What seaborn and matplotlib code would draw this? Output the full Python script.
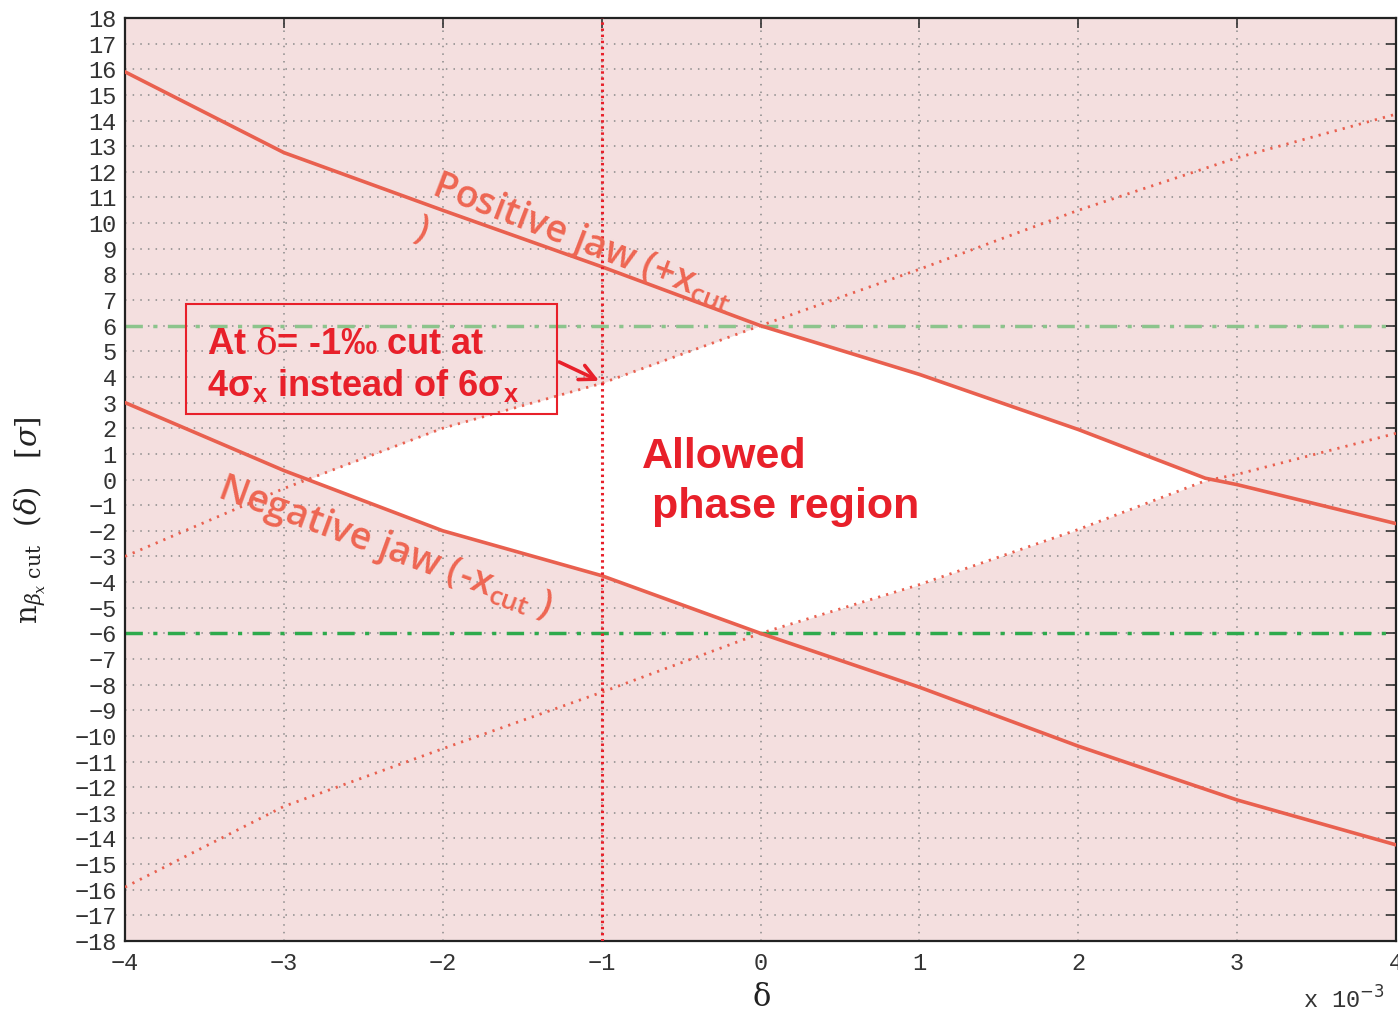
import numpy as np
import pandas as pd
import matplotlib
matplotlib.use("Agg")
import matplotlib.pyplot as plt
import seaborn as sns
from matplotlib.patches import Rectangle

# ---------------- data ----------------
delta_pos = [-4, -3, -2, -1, 0, 1, 2, 2.8, 3, 4]          # x 1e-3
positive_jaw = [15.9, 12.75, 10.5, 8.3, 6.0, 4.1, 1.95, 0.05, -0.2, -1.72]
mirror_positive = [-15.9, -12.75, -10.5, -8.3, -6.0, -4.1, -1.95, -0.05, 0.2, 1.8]

delta_neg = [-4, -3, -2, -1, 0, 1, 2, 3, 4]
negative_jaw = [3.0, 0.35, -2.0, -3.75, -6.0, -8.1, -10.4, -12.5, -14.25]
mirror_negative = [-3.0, -0.35, 2.0, 3.75, 6.0, 8.2, 10.5, 12.55, 14.25]

nominal_cut = 6
cut_delta = -1
x_ticks = [-4, -3, -2, -1, 0, 1, 2, 3, 4]
y_ticks = list(range(-18, 19))

# ---------------- style ----------------
sns.set_style("white")
plt.rcParams["font.family"] = ["Liberation Mono", "DejaVu Sans Mono"]
plt.rcParams["mathtext.fontset"] = "custom"
plt.rcParams["mathtext.rm"] = "Open Sans:semibold"
plt.rcParams["mathtext.it"] = "Liberation Sans:bold"
plt.rcParams["mathtext.bf"] = "Liberation Sans:bold"

LINE = "#e9604f"
LABEL = "#ee6652"
RED = "#e8202a"
PINK = "#f4dfdf"

W, H = 1398, 1015
fig = plt.figure(figsize=(W / 100, H / 100), dpi=100)
ax = fig.add_axes([125 / W, 1 - 941 / H, (1396 - 125) / W, (941 - 18) / H])
ax.set_facecolor(PINK)

# allowed region (white)
xs = np.linspace(-4, 4, 4001)
top = np.minimum(np.interp(xs, delta_pos, positive_jaw), np.interp(xs, delta_neg, mirror_negative))
bot = np.maximum(np.interp(xs, delta_neg, negative_jaw), np.interp(xs, delta_pos, mirror_positive))
ax.fill_between(xs, bot, top, where=top > bot, color="white", interpolate=True, zorder=1, linewidth=0)

df_pos = pd.DataFrame({"delta": delta_pos, "pos": positive_jaw, "mpos": mirror_positive})
df_neg = pd.DataFrame({"delta": delta_neg, "neg": negative_jaw, "mneg": mirror_negative})

sns.lineplot(data=df_pos, x="delta", y="pos", ax=ax, color=LINE, linewidth=2.6, sort=False, zorder=3)
sns.lineplot(data=df_neg, x="delta", y="neg", ax=ax, color=LINE, linewidth=2.6, sort=False, zorder=3)
sns.lineplot(data=df_pos, x="delta", y="mpos", ax=ax, color=LINE, linewidth=2.0, sort=False,
             linestyle=(0, (0.8, 2.2)), zorder=3)
sns.lineplot(data=df_neg, x="delta", y="mneg", ax=ax, color=LINE, linewidth=2.0, sort=False,
             linestyle=(0, (0.8, 2.2)), zorder=3)

ax.axhline(nominal_cut, color="#8cc48c", linewidth=2.5, linestyle=(0, (5, 3, 1.2, 3)), zorder=2.5)
ax.axhline(-nominal_cut, color="#2eaa4c", linewidth=2.5, linestyle=(0, (5, 3, 1.2, 3)), zorder=2.5)
ax.axvline(cut_delta, color=RED, linewidth=2.2, linestyle=(0, (0.8, 1.2)), zorder=3.5)

# axes
ax.set_xlim(-4, 4)
ax.set_ylim(-18, 18)
ax.set_xticks(x_ticks)
ax.set_yticks(y_ticks)
ax.set_xticklabels([f"{v}".replace("-", "\u2212") for v in x_ticks])
ax.set_yticklabels([f"{v}".replace("-", "\u2212") for v in y_ticks])
ax.tick_params(direction="in", length=7, width=1.2, top=True, right=True,
               labelsize=17, colors="#333333", pad=6)
ax.tick_params(axis="x", pad=8)
ax.grid(True, linestyle=(0, (1, 4)), color="#8a8a8a", linewidth=1.1)
ax.set_axisbelow(True)
for s in ax.spines.values():
    s.set_color("#222222")
    s.set_linewidth(1.6)
ax.set_xlabel("")
ax.set_ylabel("")

fig.text(762 / W, 1 - 997 / H, "δ", fontsize=22, family="DejaVu Serif", ha="center", va="center",
         color="#222222")
fig.text(1303 / W, 1 - 1000 / H, "x 10$^{-3}$", fontsize=17, ha="left", va="center", color="#333333",
         math_fontfamily="dejavusans")
fig.text(30 / W, 1 - 520 / H, r"$\mathrm{n}_{\beta_{x}\ \mathrm{cut}}\ \ (\delta)\ \ \ [\sigma]$",
         rotation=90, fontsize=21, ha="center", va="center", color="#222222",
         math_fontfamily="dejavuserif")

# annotations
JAW = dict(color=LABEL, fontsize=27, family=["Open Sans", "Liberation Sans"], fontweight="semibold",
           rotation_mode="anchor", ha="left", va="baseline", zorder=5)
ax.text(-2.08, 11.15, "Positive jaw (+x$_{\\mathrm{cut}}$", rotation=-21, **JAW)
ax.text(-2.13, 9.7, ")", color=LABEL, fontsize=26, family=["Open Sans", "Liberation Sans"],
        fontweight="semibold", rotation=-21, ha="center", va="center", zorder=5)
ax.text(-3.43, -0.65, "Negative jaw (-x$_{\\mathrm{cut}}$ )", rotation=-20, **JAW)

ax.add_patch(Rectangle((-3.616, 2.57), 2.333, 4.28, fill=False, edgecolor=RED, linewidth=1.5, zorder=5))
ax.text(-3.484, 4.9, "At $\\mathrm{\\delta}$= -1‰ cut at", color=RED, fontsize=26, fontweight="bold",
        family="Liberation Sans", ha="left", va="baseline", zorder=5, math_fontfamily="dejavuserif")
ax.text(-3.484, 3.27, "4σ$_{x}$ instead of 6σ$_{x}$", color=RED, fontsize=26, fontweight="bold",
        family="Liberation Sans", ha="left", va="baseline", zorder=5)
ax.annotate("", xy=(cut_delta, 3.8), xytext=(-1.283, 4.63),
            arrowprops=dict(arrowstyle="->", color=RED, lw=2.6, mutation_scale=28), zorder=5)

ax.text(-0.748, 0.43, "Allowed", color=RED, fontsize=31, fontweight="bold",
        family="Liberation Sans", ha="left", va="baseline", zorder=5)
ax.text(-0.686, -1.52, "phase region", color=RED, fontsize=31, fontweight="bold",
        family="Liberation Sans", ha="left", va="baseline", zorder=5)

fig.savefig("out.png", dpi=100, facecolor="white")
